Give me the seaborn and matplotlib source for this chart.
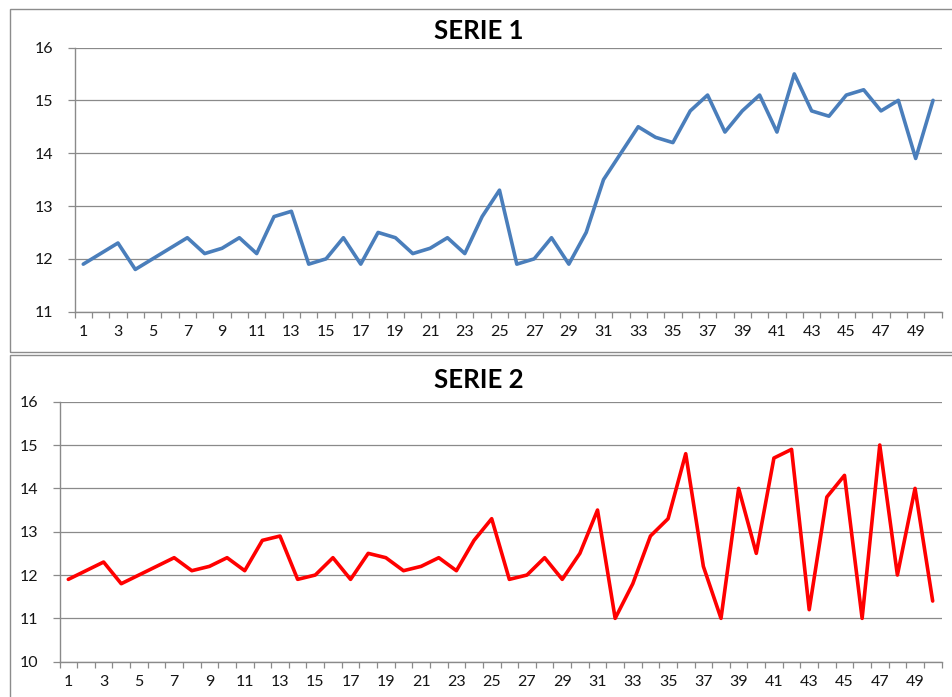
import matplotlib
matplotlib.use("Agg")
import matplotlib.pyplot as plt
import seaborn as sns
import pandas as pd
import numpy as np
from matplotlib.patches import Rectangle

# ---- data ----
periods = list(range(1, 51))
serie1 = [11.9, 12.1, 12.3, 11.8, 12.0, 12.2, 12.4, 12.1, 12.2, 12.4,
          12.1, 12.8, 12.9, 11.9, 12.0, 12.4, 11.9, 12.5, 12.4, 12.1,
          12.2, 12.4, 12.1, 12.8, 13.3, 11.9, 12.0, 12.4, 11.9, 12.5,
          13.5, 14.0, 14.5, 14.3, 14.2, 14.8, 15.1, 14.4, 14.8, 15.1,
          14.4, 15.5, 14.8, 14.7, 15.1, 15.2, 14.8, 15.0, 13.9, 15.0]
serie2 = [11.9, 12.1, 12.3, 11.8, 12.0, 12.2, 12.4, 12.1, 12.2, 12.4,
          12.1, 12.8, 12.9, 11.9, 12.0, 12.4, 11.9, 12.5, 12.4, 12.1,
          12.2, 12.4, 12.1, 12.8, 13.3, 11.9, 12.0, 12.4, 11.9, 12.5,
          13.5, 11.0, 11.8, 12.9, 13.3, 14.8, 12.2, 11.0, 14.0, 12.5,
          14.7, 14.9, 11.2, 13.8, 14.3, 11.0, 15.0, 12.0, 14.0, 11.4]
titles = ["SERIE 1", "SERIE 2"]
colors = ["#4A7EBB", "#FF0000"]
y_ranges = [(11, 16), (10, 16)]
x_tick_labels = [str(i) for i in range(1, 51, 2)]

sns.set_theme(style="white")
plt.rcParams['font.family'] = ['Lato', 'DejaVu Sans']

W, H = 952, 697
fig = plt.figure(figsize=(W / 100, H / 100), dpi=100)
fig.patch.set_facecolor("white")

def px_rect(x0, y0, x1, y1):
    return [x0 / W, 1 - y1 / H, (x1 - x0) / W, (y1 - y0) / H]

# chart frames
for (x0, y0, x1, y1) in [(9.5, 8.5, 960, 352), (9.5, 355, 960, 705)]:
    fig.add_artist(Rectangle((x0 / W, 1 - y1 / H), (x1 - x0) / W, (y1 - y0) / H,
                             transform=fig.transFigure, fill=False,
                             edgecolor="#8C8C8C", linewidth=1.0, clip_on=False))

axes_px = [(74.6, 47.5, 941.7, 311.7), (59.5, 401.7, 941.5, 661.7)]
title_y = [31, 380]
data_series = [serie1, serie2]

grid_col = "#8A8A8A"
for i in range(2):
    ax = fig.add_axes(px_rect(*axes_px[i]))
    df = pd.DataFrame({"x": periods, "y": data_series[i]})
    sns.lineplot(data=df, x="x", y="y", ax=ax, color=colors[i], linewidth=2.6)
    lo, hi = y_ranges[i]
    ax.set_ylim(lo, hi)
    ax.set_xlim(0.5, 50.5)
    ax.set_yticks(range(lo, hi + 1))
    ax.set_xticks(np.arange(0.5, 51, 1.0))
    ax.set_xticklabels([])
    ax.set_xticks(range(1, 51, 2), minor=True)
    ax.set_xticklabels(x_tick_labels, minor=True)
    ax.tick_params(axis="x", which="major", length=4.5, width=0.9, color=grid_col,
                   direction="out", bottom=True)
    ax.tick_params(axis="x", which="minor", length=0, pad=9.5, labelsize=11.5,
                   labelcolor="#151515", bottom=True)
    ax.tick_params(axis="y", length=5, width=0.9, color=grid_col, direction="out",
                   left=True, pad=10.5, labelsize=11.5, labelcolor="#151515")
    ax.yaxis.grid(True, color=grid_col, linewidth=0.9)
    ax.xaxis.grid(False)
    ax.set_axisbelow(True)
    for s in ["top", "right"]:
        ax.spines[s].set_visible(False)
    for s in ["left", "bottom"]:
        ax.spines[s].set_color(grid_col)
        ax.spines[s].set_linewidth(1.0)
    ax.set_xlabel("")
    ax.set_ylabel("")
    ax.set_facecolor("white")
    fig.text(479 / W, 1 - title_y[i] / H, titles[i], ha="center", va="center",
             fontsize=18.5, fontweight="bold", color="black")

fig.savefig("out.png", dpi=100, facecolor="white")
